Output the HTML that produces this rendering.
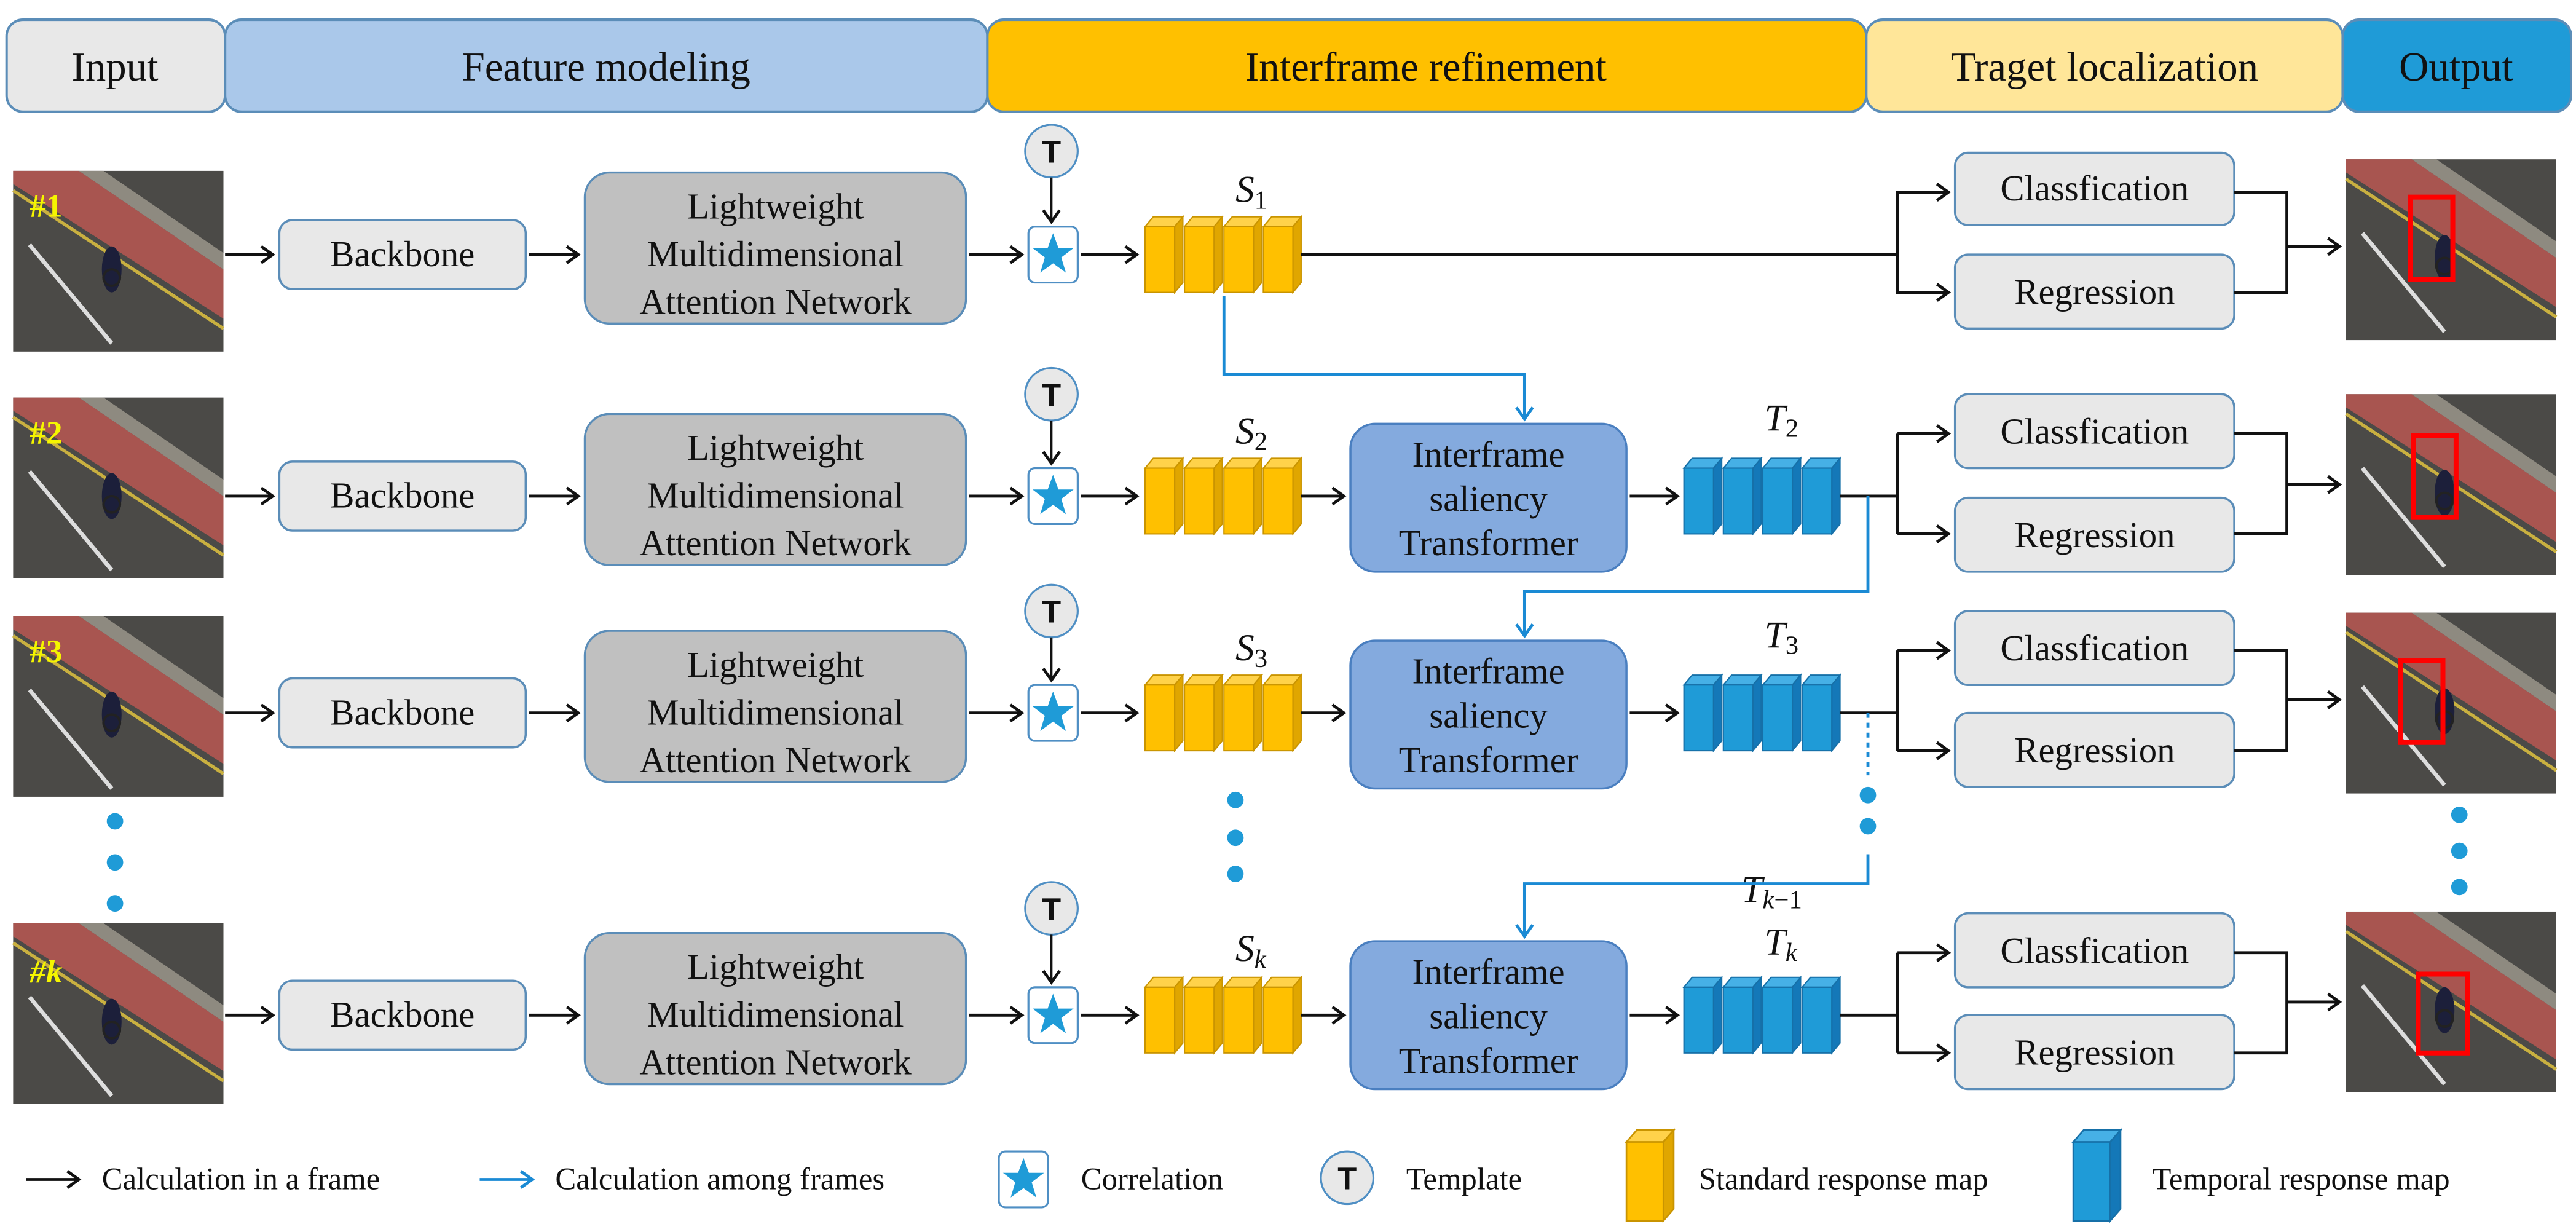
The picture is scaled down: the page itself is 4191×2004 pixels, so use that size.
<!DOCTYPE html>
<html><head><meta charset="utf-8"><style>
html,body{margin:0;padding:0;background:#fff}
svg{display:block}
svg text{font-family:"Liberation Serif","Times New Roman",serif;fill:#111}
</style></head><body>
<svg width="4191" height="2004" viewBox="0 0 1568 750" preserveAspectRatio="none" xmlns="http://www.w3.org/2000/svg" font-family="Liberation Serif, serif">
<defs>
<marker id="ab" markerWidth="12" markerHeight="12" refX="9" refY="6" orient="auto" markerUnits="userSpaceOnUse"><path d="M2,1 L9,6 L2,11" fill="none" stroke="#111" stroke-width="1.8"/></marker>
<marker id="au" markerWidth="12" markerHeight="12" refX="9" refY="6" orient="auto" markerUnits="userSpaceOnUse"><path d="M2,1 L9,6 L2,11" fill="none" stroke="#1a8ad4" stroke-width="1.8"/></marker>
<g id="cy"><polygon points="0,6 5,0 23,0 18,6" fill="#ffd24a" stroke="#c99400" stroke-width="0.8"/><polygon points="18,6 23,0 23,40 18,46" fill="#e0a600" stroke="#c99400" stroke-width="0.8"/><rect x="0" y="6" width="18" height="40" fill="#ffc000" stroke="#c99400" stroke-width="0.8"/></g>
<g id="cb"><polygon points="0,6 5,0 23,0 18,6" fill="#46b0e6" stroke="#1670a8" stroke-width="0.8"/><polygon points="18,6 23,0 23,40 18,46" fill="#1478b8" stroke="#1670a8" stroke-width="0.8"/><rect x="0" y="6" width="18" height="40" fill="#1f9bd7" stroke="#1670a8" stroke-width="0.8"/></g>
<g id="sy"><use href="#cy"/><use href="#cy" x="24"/><use href="#cy" x="48"/><use href="#cy" x="72"/></g>
<g id="sb"><use href="#cb"/><use href="#cb" x="24"/><use href="#cb" x="48"/><use href="#cb" x="72"/></g>
<g id="star"><rect x="0" y="0" width="30" height="34" rx="4" fill="#fff" stroke="#4f8fc4" stroke-width="1.2"/><polygon points="15,4 18.3,13 27.5,13 20,18.7 22.8,28 15,22.3 7.2,28 10,18.7 2.5,13 11.7,13" fill="#1f9bd7"/></g>
<g id="tc"><circle cx="0" cy="0" r="16" fill="#e8e8e8" stroke="#4f8fc4" stroke-width="1.2"/><text x="0" y="7" text-anchor="middle" font-family="Liberation Sans, sans-serif" style="font-family:'Liberation Sans',sans-serif;font-weight:bold;font-size:19px">T</text></g>
<g id="ph"><rect width="128" height="110" fill="#4b4a47"/><polygon points="0,0 40,0 128,60 128,90 0,8" fill="#a85550"/><polygon points="40,0 55,0 128,50 128,60" fill="#8e8a80"/><line x1="0" y1="12" x2="128" y2="96" stroke="#c9b040" stroke-width="2"/><line x1="10" y1="45" x2="60" y2="105" stroke="#ddd" stroke-width="2.5"/><ellipse cx="60" cy="60" rx="6" ry="14" fill="#1c1f3a"/><circle cx="60" cy="65" r="5" fill="none" stroke="#222" stroke-width="1.5"/></g>
</defs>

<g stroke="#5b8db8" stroke-width="1.5">
<rect x="4" y="12" width="133" height="56" rx="10" fill="#e8e8e8"/>
<rect x="137" y="12" width="464" height="56" rx="10" fill="#aac8ea"/>
<rect x="601" y="12" width="535" height="56" rx="10" fill="#ffc000"/>
<rect x="1136" y="12" width="290" height="56" rx="10" fill="#ffe699"/>
<rect x="1426" y="12" width="139" height="56" rx="10" fill="#1f9bd7"/>
</g>
<g font-size="25" text-anchor="middle">
<text x="70" y="49">Input</text>
<text x="369" y="49">Feature modeling</text>
<text x="868" y="49">Interframe refinement</text>
<text x="1281" y="49">Traget localization</text>
<text x="1495" y="49">Output</text>
</g>

<use href="#ph" x="8" y="104"/><text x="18" y="132" style="fill:#f5f500;font-weight:bold;font-size:20px">#1</text>
<use href="#ph" x="1428" y="97"/><rect x="1467" y="120" width="26" height="50" fill="none" stroke="#f00" stroke-width="3"/>
<use href="#ph" x="8" y="242"/><text x="18" y="270" style="fill:#f5f500;font-weight:bold;font-size:20px">#2</text>
<use href="#ph" x="1428" y="240"/><rect x="1469" y="265" width="26" height="50" fill="none" stroke="#f00" stroke-width="3"/>
<use href="#ph" x="8" y="375"/><text x="18" y="403" style="fill:#f5f500;font-weight:bold;font-size:20px">#3</text>
<use href="#ph" x="1428" y="373"/><rect x="1461" y="402" width="26" height="50" fill="none" stroke="#f00" stroke-width="3"/>
<use href="#ph" x="8" y="562"/><text x="18" y="598" style="fill:#f5f500;font-weight:bold;font-style:italic;font-size:20px">#k</text>
<use href="#ph" x="1428" y="555"/><rect x="1472" y="593" width="30" height="48" fill="none" stroke="#f00" stroke-width="3"/>

<g stroke="#5b8db8" stroke-width="1.3">
<rect x="170" y="134" width="150" height="42" rx="8" fill="#e8e8e8"/>
<rect x="170" y="281" width="150" height="42" rx="8" fill="#e8e8e8"/>
<rect x="170" y="413" width="150" height="42" rx="8" fill="#e8e8e8"/>
<rect x="170" y="597" width="150" height="42" rx="8" fill="#e8e8e8"/>
<rect x="356" y="105" width="232" height="92" rx="15" fill="#c0c0c0"/>
<rect x="356" y="252" width="232" height="92" rx="15" fill="#c0c0c0"/>
<rect x="356" y="384" width="232" height="92" rx="15" fill="#c0c0c0"/>
<rect x="356" y="568" width="232" height="92" rx="15" fill="#c0c0c0"/>
<rect x="822" y="258" width="168" height="90" rx="15" fill="#84aade" stroke="#4a7fc0"/>
<rect x="822" y="390" width="168" height="90" rx="15" fill="#84aade" stroke="#4a7fc0"/>
<rect x="822" y="573" width="168" height="90" rx="15" fill="#84aade" stroke="#4a7fc0"/>
</g>
<g font-size="22" text-anchor="middle">
<text x="245" y="162">Backbone</text><text x="245" y="309">Backbone</text><text x="245" y="441">Backbone</text><text x="245" y="625">Backbone</text>
<text x="472" y="133">Lightweight</text><text x="472" y="162">Multidimensional</text><text x="472" y="191">Attention Network</text>
<text x="472" y="280">Lightweight</text><text x="472" y="309">Multidimensional</text><text x="472" y="338">Attention Network</text>
<text x="472" y="412">Lightweight</text><text x="472" y="441">Multidimensional</text><text x="472" y="470">Attention Network</text>
<text x="472" y="596">Lightweight</text><text x="472" y="625">Multidimensional</text><text x="472" y="654">Attention Network</text>
<text x="906" y="284">Interframe</text><text x="906" y="311">saliency</text><text x="906" y="338">Transformer</text>
<text x="906" y="416">Interframe</text><text x="906" y="443">saliency</text><text x="906" y="470">Transformer</text>
<text x="906" y="599">Interframe</text><text x="906" y="626">saliency</text><text x="906" y="653">Transformer</text>
</g>

<use href="#tc" x="640" y="92"/><use href="#tc" x="640" y="240"/><use href="#tc" x="640" y="372"/><use href="#tc" x="640" y="553"/>
<use href="#star" x="626" y="138"/><use href="#star" x="626" y="285"/><use href="#star" x="626" y="417"/><use href="#star" x="626" y="601"/>

<use href="#sy" x="697" y="132"/><use href="#sy" x="697" y="279"/><use href="#sy" x="697" y="411"/><use href="#sy" x="697" y="595"/>
<use href="#sb" x="1025" y="279"/><use href="#sb" x="1025" y="411"/><use href="#sb" x="1025" y="595"/>
<g font-size="23" font-style="italic">
<text x="752" y="123">S<tspan font-size="16" font-style="normal" dy="4">1</tspan></text>
<text x="752" y="270">S<tspan font-size="16" font-style="normal" dy="4">2</tspan></text>
<text x="752" y="402">S<tspan font-size="16" font-style="normal" dy="4">3</tspan></text>
<text x="752" y="585">S<tspan font-size="16" dy="4">k</tspan></text>
<text x="1074" y="262">T<tspan font-size="16" font-style="normal" dy="4">2</tspan></text>
<text x="1074" y="394">T<tspan font-size="16" font-style="normal" dy="4">3</tspan></text>
<text x="1074" y="581">T<tspan font-size="16" dy="4">k</tspan></text>
<text x="1060" y="549">T<tspan font-size="16" dy="4">k</tspan><tspan font-size="16" font-style="normal">−1</tspan></text>
</g>

<g stroke="#5b8db8" stroke-width="1.3" fill="#e8e8e8">
<rect x="1190" y="93" width="170" height="44" rx="8"/><rect x="1190" y="155" width="170" height="45" rx="8"/>
<rect x="1190" y="240" width="170" height="45" rx="8"/><rect x="1190" y="303" width="170" height="45" rx="8"/>
<rect x="1190" y="372" width="170" height="45" rx="8"/><rect x="1190" y="434" width="170" height="45" rx="8"/>
<rect x="1190" y="556" width="170" height="45" rx="8"/><rect x="1190" y="618" width="170" height="45" rx="8"/>
</g>
<g font-size="22" text-anchor="middle">
<text x="1275" y="122">Classfication</text><text x="1275" y="185">Regression</text>
<text x="1275" y="270">Classfication</text><text x="1275" y="333">Regression</text>
<text x="1275" y="402">Classfication</text><text x="1275" y="464">Regression</text>
<text x="1275" y="586">Classfication</text><text x="1275" y="648">Regression</text>
</g>

<g stroke="#111" stroke-width="1.8" fill="none">
<path d="M137,155 H166" marker-end="url(#ab)"/><path d="M322,155 H352" marker-end="url(#ab)"/><path d="M590,155 H622" marker-end="url(#ab)"/><path d="M658,155 H692" marker-end="url(#ab)"/>
<path d="M640,108 V135" stroke-width="1.3" marker-end="url(#ab)"/>
<path d="M792,155 H1155"/><path d="M1170,117 H1155 V178 H1170"/><path d="M1160,117 H1186" marker-end="url(#ab)"/><path d="M1160,178 H1186" marker-end="url(#ab)"/>
<path d="M1360,117 H1392 V178 H1360"/><path d="M1392,150 H1424" marker-end="url(#ab)"/>
<path d="M137,302 H166" marker-end="url(#ab)"/><path d="M322,302 H352" marker-end="url(#ab)"/><path d="M590,302 H622" marker-end="url(#ab)"/><path d="M658,302 H692" marker-end="url(#ab)"/>
<path d="M640,256 V282" stroke-width="1.3" marker-end="url(#ab)"/>
<path d="M792,302 H818" marker-end="url(#ab)"/><path d="M992,302 H1021" marker-end="url(#ab)"/>
<path d="M1120,302 H1155"/><path d="M1155,264 V325"/><path d="M1155,264 H1186" marker-end="url(#ab)"/><path d="M1155,325 H1186" marker-end="url(#ab)"/>
<path d="M1360,264 H1392 V325 H1360"/><path d="M1392,295 H1424" marker-end="url(#ab)"/>
<path d="M137,434 H166" marker-end="url(#ab)"/><path d="M322,434 H352" marker-end="url(#ab)"/><path d="M590,434 H622" marker-end="url(#ab)"/><path d="M658,434 H692" marker-end="url(#ab)"/>
<path d="M640,388 V414" stroke-width="1.3" marker-end="url(#ab)"/>
<path d="M792,434 H818" marker-end="url(#ab)"/><path d="M992,434 H1021" marker-end="url(#ab)"/>
<path d="M1120,434 H1155"/><path d="M1155,396 V457"/><path d="M1155,396 H1186" marker-end="url(#ab)"/><path d="M1155,457 H1186" marker-end="url(#ab)"/>
<path d="M1360,396 H1392 V457 H1360"/><path d="M1392,426 H1424" marker-end="url(#ab)"/>
<path d="M137,618 H166" marker-end="url(#ab)"/><path d="M322,618 H352" marker-end="url(#ab)"/><path d="M590,618 H622" marker-end="url(#ab)"/><path d="M658,618 H692" marker-end="url(#ab)"/>
<path d="M640,569 V598" stroke-width="1.3" marker-end="url(#ab)"/>
<path d="M792,618 H818" marker-end="url(#ab)"/><path d="M992,618 H1021" marker-end="url(#ab)"/>
<path d="M1120,618 H1155"/><path d="M1155,580 V641"/><path d="M1155,580 H1186" marker-end="url(#ab)"/><path d="M1155,641 H1186" marker-end="url(#ab)"/>
<path d="M1360,580 H1392 V641 H1360"/><path d="M1392,610 H1424" marker-end="url(#ab)"/>
</g>

<g stroke="#1a8ad4" stroke-width="1.8" fill="none">
<path d="M745,180 V228 H928 V255" marker-end="url(#au)"/>
<path d="M1137,302 V360 H928 V387" marker-end="url(#au)"/>
<path d="M1137,434 V472" stroke-dasharray="3,3"/>
<path d="M1137,520 V538 H928 V570" marker-end="url(#au)"/>
</g>
<g fill="#1f9bd7">
<circle cx="1137" cy="484" r="5"/><circle cx="1137" cy="503" r="5"/>
<circle cx="70" cy="500" r="5"/><circle cx="70" cy="525" r="5"/><circle cx="70" cy="550" r="5"/>
<circle cx="752" cy="487" r="5"/><circle cx="752" cy="510" r="5"/><circle cx="752" cy="532" r="5"/>
<circle cx="1497" cy="496" r="5"/><circle cx="1497" cy="518" r="5"/><circle cx="1497" cy="540" r="5"/>
</g>

<g stroke-width="1.8" fill="none">
<path d="M16,718 H48" stroke="#111" marker-end="url(#ab)"/>
<path d="M292,718 H324" stroke="#1a8ad4" marker-end="url(#au)"/>
</g>
<use href="#star" x="608" y="701"/>
<use href="#tc" x="820" y="717"/>
<g transform="translate(990,688) scale(1.25,1.2)"><use href="#cy"/></g>
<g transform="translate(1262,688) scale(1.25,1.2)"><use href="#cb"/></g>
<g font-size="19">
<text x="62" y="724">Calculation in a frame</text>
<text x="338" y="724">Calculation among frames</text>
<text x="658" y="724">Correlation</text>
<text x="856" y="724">Template</text>
<text x="1034" y="724">Standard response map</text>
<text x="1310" y="724">Temporal response map</text>
</g>
</svg>
</body></html>
